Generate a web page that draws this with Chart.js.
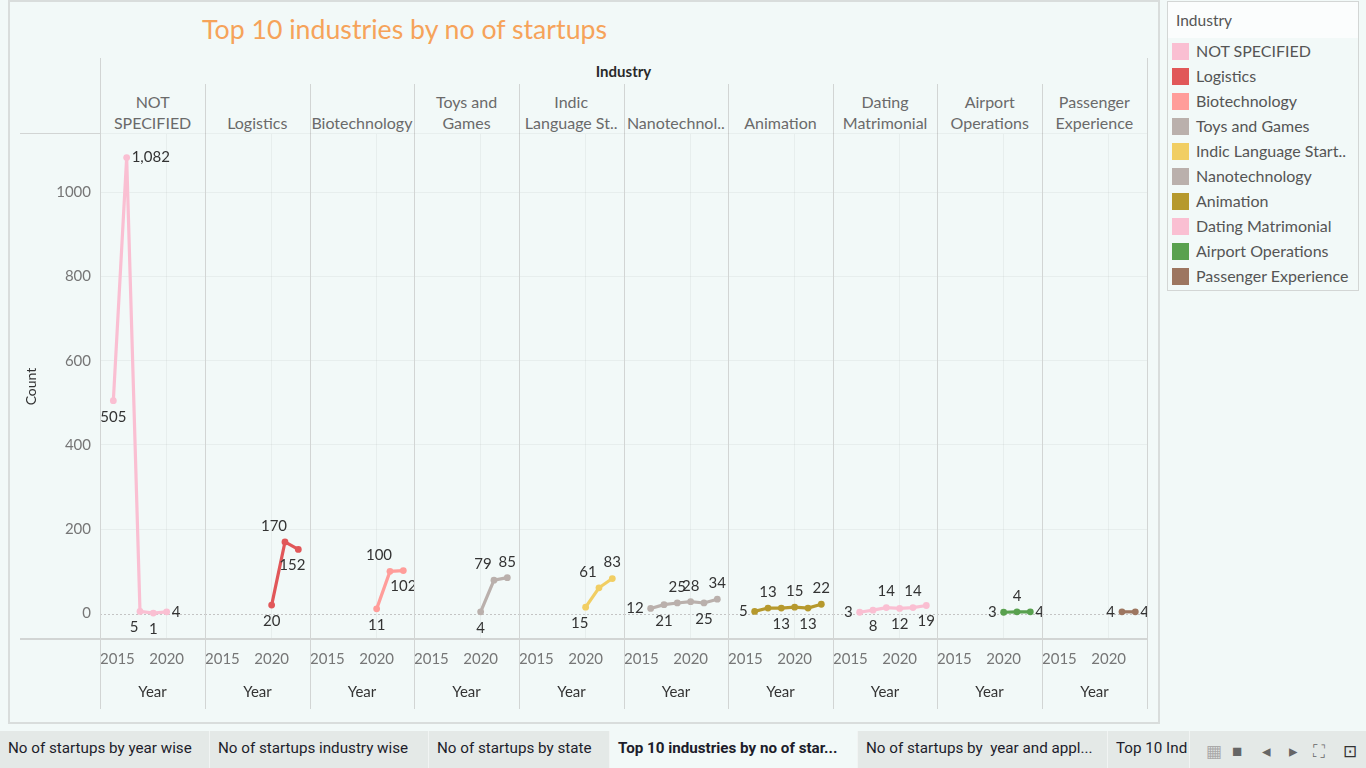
<!DOCTYPE html>
<html><head><meta charset="utf-8">
<script src="https://cdn.jsdelivr.net/npm/chart.js@4.4.0/dist/chart.umd.min.js"></script>
<style>
html,body{margin:0;padding:0;width:1366px;height:768px;overflow:hidden;background:#f2f9f8;font-family:Lato,"Noto Sans",sans-serif;}
.abs{position:absolute;}
#frame{left:8px;top:0;width:1148px;height:720px;border:2px solid #d9dddc;}
#title{left:202px;top:13px;font-size:26.7px;color:#f6a35a;white-space:nowrap;}
#indHead{left:100px;width:1047px;top:62px;text-align:center;font-size:15px;color:#2a2a2a;font-weight:bold;}
.ph{height:44px;display:flex;flex-direction:column;justify-content:flex-end;align-items:center;font-size:16px;color:#6a6a6a;line-height:21px;white-space:nowrap;overflow:hidden;}
.vline{width:1px;background:#d2d5d4;z-index:5;}
.hline{height:1px;background:#d2d5d4;z-index:5;}
canvas{position:absolute;}
#legend{left:1167px;top:1px;width:190px;height:288px;border:1px solid #d3d6d5;}
#legHead{left:0;top:0;width:190px;height:36px;background:#fbfdfd;}
#legTitle{left:8px;top:9px;font-size:15.5px;color:#555;}
.sw{width:17px;height:17px;}
.lt{font-size:16px;color:#555;white-space:nowrap;}
#tabs{left:0;top:731px;width:1366px;height:37px;background:#e4e9e7;}
.tab{top:0;height:37px;line-height:35px;font-family:Roboto,sans-serif;font-size:15.2px;color:#1d1d2b;white-space:nowrap;overflow:hidden;border-right:1px solid #f1f4f3;padding-left:8px;box-sizing:border-box;}
.tab.active{background:#f2f9f8;font-weight:bold;}
.ic{color:#666;font-size:14px;top:9px;}
</style></head><body>
<div id="frame" class="abs"></div>
<div id="title" class="abs">Top 10 industries by no of startups</div>
<div id="indHead" class="abs">Industry</div>
<div id="panels"></div>
<div id="legend" class="abs"><div id="legHead" class="abs"><div id="legTitle" class="abs">Industry</div></div></div>
<div id="tabs" class="abs"></div>
<script>
// ---------- DATA ----------
const industries = ['NOT SPECIFIED','Logistics','Biotechnology','Toys and Games','Indic Language Startups','Nanotechnology','Animation','Dating Matrimonial','Airport Operations','Passenger Experience'];
const headerLabels = [['NOT','SPECIFIED'],['Logistics'],['Biotechnology'],['Toys and','Games'],['Indic','Language St..'],['Nanotechnol..'],['Animation'],['Dating','Matrimonial'],['Airport','Operations'],['Passenger','Experience']];
const legendLabels = ['NOT SPECIFIED','Logistics','Biotechnology','Toys and Games','Indic Language Start..','Nanotechnology','Animation','Dating Matrimonial','Airport Operations','Passenger Experience'];

const yearsNotSpecified = [2016,2017,2018,2019,2020];
const countNotSpecified = [505,1082,5,1,4];
const yearsLogistics = [2020,2021,2022];
const countLogistics = [20,170,152];
const yearsBiotechnology = [2020,2021,2022];
const countBiotechnology = [11,100,102];
const yearsToys = [2020,2021,2022];
const countToys = [4,79,85];
const yearsIndic = [2020,2021,2022];
const countIndic = [15,61,83];
const yearsNano = [2017,2018,2019,2020,2021,2022];
const countNano = [12,21,25,28,25,34];
const yearsAnimation = [2017,2018,2019,2020,2021,2022];
const countAnimation = [5,13,13,15,13,22];
const yearsDating = [2017,2018,2019,2020,2021,2022];
const countDating = [3,8,14,12,14,19];
const yearsAirport = [2020,2021,2022];
const countAirport = [3,4,4];
const yearsPassenger = [2021,2022];
const countPassenger = [4,4];

const yTicks = [0,200,400,600,800,1000];
const xTicks = [2015,2020];

// ---------- STYLE ----------
const colors = ['#fabfd2','#e15759','#ff9d9a','#bab0ac','#f1ce63','#bab0ac','#b6992d','#fabfd2','#59a14f','#9d7660'];
const labelPlacement = [
  ['b','r','bl','b','r'],
  ['b','al','bl'],
  ['b','al','b'],
  ['b','al','a'],
  ['bl','al','a'],
  ['l','b','a','a','b','a'],
  ['l','a','b','a','b','a'],
  ['l','b','a','b','a','b'],
  ['l','a','r'],
  ['l','r']
];
const seriesYears = [yearsNotSpecified,yearsLogistics,yearsBiotechnology,yearsToys,yearsIndic,yearsNano,yearsAnimation,yearsDating,yearsAirport,yearsPassenger];
const seriesCounts = [countNotSpecified,countLogistics,countBiotechnology,countToys,countIndic,countNano,countAnimation,countDating,countAirport,countPassenger];

const FONT = 'Lato, "Noto Sans", sans-serif';
Chart.defaults.font.family = FONT;
const L = i => 100.3 + i*104.64;
const PX_PER_YEAR = 13.33;
const Y_MIN = -60.5, Y_MAX = 1138;

const panels = document.getElementById('panels');
function addDiv(cls, style, html){const d=document.createElement('div');d.className='abs '+cls;Object.assign(d.style,style);if(html!==undefined)d.innerHTML=html;panels.appendChild(d);return d;}

// headers
headerLabels.forEach((lines,i)=>{
  addDiv('ph',{left:L(i)+'px',width:(L(i+1)-L(i))+'px',top:'89px'},lines.map(s=>'<div>'+s+'</div>').join(''));
});
// lines
for(let i=0;i<=10;i++){
  const top = (i===0||i===10)?58:84;
  addDiv('vline',{left:Math.round(L(i))+'px',top:top+'px',height:(709-top)+'px'});
}
addDiv('hline',{left:'20px',top:'133px',width:'81px'});
addDiv('hline',{left:'101px',top:'133px',width:'1046px',background:'rgba(0,0,0,0.04)'});
addDiv('hline',{left:'20px',top:'638px',width:'1127px',height:'2px'});

function makeLabelPlugin(placement){
  return {
    id:'pointLabels',
    afterDatasetsDraw(chart){
      const ctx=chart.ctx, meta=chart.getDatasetMeta(0), ds=chart.data.datasets[0];
      ctx.save(); ctx.font='15px '+FONT; ctx.fillStyle='#333';
      meta.data.forEach((pt,k)=>{
        const txt = ds.data[k].y.toLocaleString('en-US');
        const p = placement[k];
        let x=pt.x, y=pt.y, align='center';
        if(p==='a'){y-=16;}
        else if(p==='b'){y+=16;}
        else if(p==='l'){x-=7;align='right';}
        else if(p==='r'){x+=5;align='left';}
        else if(p==='al'){y-=16;x-=11;}
        else if(p==='bl'){y+=16;x-=6;}
        ctx.textAlign=align; ctx.textBaseline='middle'; ctx.fillText(txt,x,y);
      });
      ctx.restore();
    }
  };
}
const zeroLine = {
  id:'zeroLine',
  beforeDatasetsDraw(chart){
    const {ctx,chartArea,scales}=chart; const y=Math.round(scales.y.getPixelForValue(0))+0.5;
    ctx.save(); ctx.strokeStyle='#c4c4c4'; ctx.lineWidth=1; ctx.setLineDash([2,2]);
    ctx.beginPath(); ctx.moveTo(chartArea.left,y); ctx.lineTo(chartArea.right,y); ctx.stroke(); ctx.restore();
  }
};

for(let i=0;i<10;i++){
  const left = i===0 ? 20 : Math.round(L(i));
  const right = Math.round(L(i+1));
  const yAxisW = i===0 ? Math.round(L(0))-20 : 0;
  const plotW = right-left-yAxisW;
  const cv=document.createElement('canvas');
  cv.width=right-left; cv.height=575;
  cv.style.left=left+'px'; cv.style.top='134px';
  cv.style.width=(right-left)+'px'; cv.style.height='575px';
  document.body.appendChild(cv);
  const xMax = 2015 + plotW/PX_PER_YEAR;
  new Chart(cv,{
    type:'line',
    data:{datasets:[{
      label:industries[i],
      data:seriesYears[i].map((yr,k)=>({x:yr,y:seriesCounts[i][k]})),
      borderColor:colors[i],backgroundColor:colors[i],pointBackgroundColor:colors[i],pointBorderColor:colors[i],
      borderWidth:3.2,pointRadius:3.4,pointHoverRadius:3.4,pointBorderWidth:0,tension:0,clip:false
    }]},
    options:{
      responsive:false,animation:false,events:[],devicePixelRatio:1,
      layout:{padding:0,autoPadding:false},
      plugins:{legend:{display:false},tooltip:{enabled:false}},
      scales:{
        x:{type:'linear',min:2015,max:xMax,
          afterBuildTicks:s=>{s.ticks=[...xTicks.map(v=>({value:v})),{value:s.max}];},
          ticks:{align:'inner',autoSkip:false,maxRotation:0,minRotation:0,padding:11,color:'#767676',font:{size:15},
            callback:v=>xTicks.includes(v)?String(v):''},
          grid:{drawTicks:false,color:c=>(c.tick&&c.tick.value===2020)?'rgba(0,0,0,0.045)':'rgba(0,0,0,0)'},
          border:{display:false},
          title:{display:true,text:'Year',color:'#333',font:{size:15},padding:{top:0,bottom:8}},
          afterFit:s=>{s.height=70;s.paddingLeft=0;s.paddingRight=0;}
        },
        y:{min:Y_MIN,max:Y_MAX,
          afterBuildTicks:s=>{s.ticks=yTicks.map(v=>({value:v}));},
          ticks:{display:i===0,padding:9,color:'#767676',font:{size:15},callback:v=>String(v)},
          grid:{drawTicks:false,color:c=>(c.tick&&c.tick.value===0)?'rgba(0,0,0,0)':'rgba(0,0,0,0.045)'},
          border:{display:false},
          title:{display:i===0,text:'Count',color:'#333',font:{size:14},padding:{top:3,bottom:0}},
          afterFit:s=>{s.width=yAxisW;s.paddingTop=0;s.paddingBottom=0;}
        }
      }
    },
    plugins:[zeroLine,makeLabelPlugin(labelPlacement[i])]
  });
}

// legend
const leg=document.getElementById('legend');
legendLabels.forEach((t,k)=>{
  const sw=document.createElement('div');sw.className='abs sw';
  Object.assign(sw.style,{left:'4px',top:(41+k*25)+'px',background:colors[k]});
  leg.appendChild(sw);
  const tx=document.createElement('div');tx.className='abs lt';
  Object.assign(tx.style,{left:'28px',top:(39+k*25)+'px'});tx.textContent=t;leg.appendChild(tx);
});

// tabs
const tabs=[['No of startups by year wise',0,210],['No of startups industry wise',210,429],['No of startups by state',429,610],['Top 10 industries by no of star...',610,858,true],['No of startups by  year and appl...',858,1108],['Top 10 Ind',1108,1190]];
const tb=document.getElementById('tabs');
tabs.forEach(([t,a,b,act])=>{
  const d=document.createElement('div');d.className='abs tab'+(act?' active':'');
  Object.assign(d.style,{left:a+'px',width:(b-a)+'px'});d.textContent=t;d.style.whiteSpace='pre';tb.appendChild(d);
});
const icons=[['▦',1206,'#aaa'],['■',1232,'#666'],['◂',1262,'#666'],['▸',1289,'#666'],['⛶',1313,'#666'],['⊡',1343,'#333']];
icons.forEach(([g,x,c])=>{const d=document.createElement('div');d.className='abs ic';Object.assign(d.style,{left:x+'px',color:c,fontSize:'17px'});d.textContent=g;tb.appendChild(d);});
</script>
</body></html>
